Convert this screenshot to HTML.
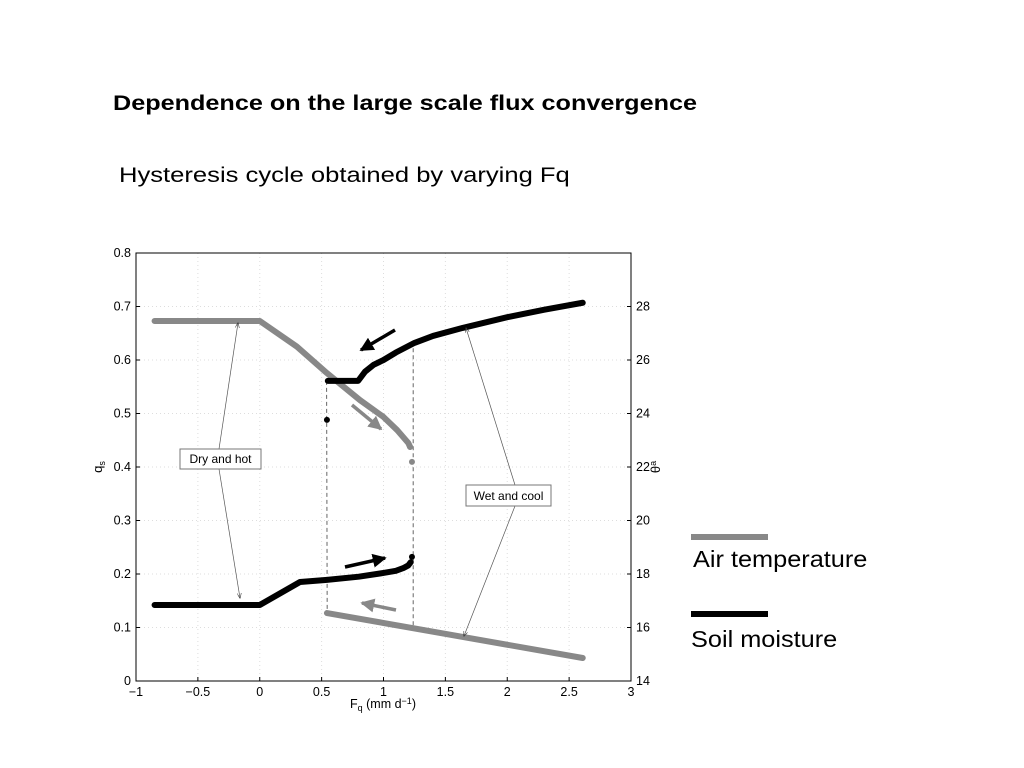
<!DOCTYPE html>
<html><head><meta charset="utf-8"><style>
body{margin:0;background:#fff;width:1024px;height:768px;overflow:hidden;font-family:"Liberation Sans",sans-serif}
.t{position:absolute;color:#000;white-space:nowrap;transform-origin:0 0}
</style></head><body>
<div class="t" style="left:113px;top:92px;font-size:21px;font-weight:bold;transform:scaleX(1.2)">Dependence on the large scale flux convergence</div>
<div class="t" style="left:119px;top:163px;font-size:21.5px;transform:scaleX(1.19)">Hysteresis cycle obtained by varying Fq</div>
<svg id="chart" width="1024" height="768" style="position:absolute;left:0;top:0" font-family="Liberation Sans, sans-serif"></svg>
<div style="position:absolute;left:691px;top:534px;width:77px;height:6px;background:#888"></div>
<div class="t" style="left:693px;top:546px;font-size:23px;transform:scaleX(1.1)">Air temperature</div>
<div style="position:absolute;left:691px;top:611px;width:77px;height:6px;background:#000"></div>
<div class="t" style="left:691px;top:626px;font-size:23px;transform:scaleX(1.1)">Soil moisture</div>
<script>
const xTicks=[-1,-0.5,0,0.5,1,1.5,2,2.5,3];
const xTickLabels=["\u22121","\u22120.5","0","0.5","1","1.5","2","2.5","3"];
const yTicks=[0,0.1,0.2,0.3,0.4,0.5,0.6,0.7,0.8];
const yTickLabels=["0","0.1","0.2","0.3","0.4","0.5","0.6","0.7","0.8"];
const y2Ticks=[14,16,18,20,22,24,26,28];
const soilLowerX=[-0.85,0,0.325,0.543,0.8,1.0,1.1,1.16,1.2,1.22];
const soilLowerQ=[0.142,0.142,0.185,0.189,0.195,0.202,0.206,0.211,0.216,0.222];
const soilUpperX=[0.55,0.795,0.85,0.92,1.0,1.1,1.25,1.4,1.64,2.0,2.3,2.61];
const soilUpperQ=[0.561,0.561,0.578,0.591,0.6,0.614,0.632,0.645,0.66,0.68,0.694,0.707];
const airUpperX=[-0.85,0,0.3,0.543,0.81,1.0,1.11,1.2,1.215];
const airUpperT=[27.46,27.46,26.5,25.51,24.5,23.87,23.38,22.9,22.75];
const airLowerX=[0.543,2.61];
const airLowerT=[16.54,14.86];
const dotsX=[0.543,1.23];const dotsQ=[0.488,0.232];
const airDotsX=[1.215,1.23];const airDotsT=[22.75,22.19];
const X0=136,X1=631,Y0=681,Y1=253;
const sx=v=>X0+(v+1)/4*(X1-X0);
const sy=v=>Y0-v/0.8*(Y0-Y1);
const st=v=>Y0-(v-14)/16*(Y0-Y1);
const svg=document.getElementById('chart');
const NS='http://www.w3.org/2000/svg';
function mk(tag,a,name){const e=document.createElementNS(NS,tag);for(const k in a)e.setAttribute(k,a[k]);


svg.appendChild(e);return e;}
mk('defs',{},'arrow-defs').innerHTML='<marker id="ah" markerWidth="8" markerHeight="6" refX="7" refY="3" orient="auto"><path d="M0,0L8,3L0,6" fill="none" stroke="#333" stroke-width="0.8"/></marker><marker id="bk" markerWidth="4" markerHeight="4" refX="3.5" refY="2" orient="auto" markerUnits="strokeWidth"><path d="M0,0L4,2L0,4Z" fill="#000"/></marker><marker id="gy" markerWidth="4" markerHeight="4" refX="3.5" refY="2" orient="auto" markerUnits="strokeWidth"><path d="M0,0L4,2L0,4Z" fill="#888"/></marker>';
xTicks.forEach((v,i)=>{const x=sx(v);
if(i>0&&i<xTicks.length-1)mk('line',{x1:x,x2:x,y1:Y1,y2:Y0,stroke:'#ddd','stroke-dasharray':'1,3','stroke-width':1},'x-grid');
mk('line',{x1:x,x2:x,y1:Y0,y2:Y0-4,stroke:'#000'},'x-tick');
const t=mk('text',{x:x,y:Y0+15,'font-size':12.5,'text-anchor':'middle'},'x-tick-label');t.textContent=xTickLabels[i];});
yTicks.forEach((v,i)=>{const y=sy(v);
if(i>0&&i<yTicks.length-1)mk('line',{x1:X0,x2:X1,y1:y,y2:y,stroke:'#ddd','stroke-dasharray':'1,3','stroke-width':1},'y-grid');
mk('line',{x1:X0,x2:X0+4,y1:y,y2:y,stroke:'#000'},'y-tick');
const t=mk('text',{x:X0-5,y:y+4,'font-size':12.5,'text-anchor':'end'},'y-tick-label');t.textContent=yTickLabels[i];});
y2Ticks.forEach(v=>{const y=st(v);mk('line',{x1:X1,x2:X1-4,y1:y,y2:y,stroke:'#000'},'y2-tick');
const t=mk('text',{x:X1+5,y:y+4,'font-size':12.5},'y2-tick-label');t.textContent=v;});
mk('rect',{x:X0,y:Y1,width:X1-X0,height:Y0-Y1,fill:'none',stroke:'#000','stroke-width':1},'plot-frame');
let t=mk('text',{x:383,y:708,'font-size':12.5,'text-anchor':'middle'},'x-axis-title');t.innerHTML='F<tspan font-size="9" dy="3">q</tspan><tspan dy="-3"> (mm d</tspan><tspan font-size="9" dy="-4">−1</tspan><tspan dy="4">)</tspan>';
t=mk('text',{x:102,y:467,'font-size':13,'text-anchor':'middle',transform:'rotate(-90 102 467)'},'y-axis-title');t.innerHTML='q<tspan font-size="9" dy="3">s</tspan>';
t=mk('text',{x:660,y:467,'font-size':13,'text-anchor':'middle',transform:'rotate(-90 660 467)'},'y2-axis-title');t.innerHTML='θ<tspan font-size="9" dy="-4">a</tspan>';
mk('line',{x1:sx(0.54),x2:sx(0.545),y1:sy(0.561),y2:st(16.54),stroke:'#666','stroke-dasharray':'4,3'},'dashed-jump-left');
mk('line',{x1:sx(1.24),x2:sx(1.24),y1:sy(0.635),y2:st(15.9),stroke:'#666','stroke-dasharray':'4,3'},'dashed-jump-right');
const pts=(xs,ys,f)=>xs.map((v,i)=>sx(v)+','+f(ys[i])).join(' ');
mk('polyline',{points:pts(airUpperX,airUpperT,st),fill:'none',stroke:'#888','stroke-width':6,'stroke-linejoin':'round','stroke-linecap':'round'},'air-temp-upper');
mk('polyline',{points:pts(airLowerX,airLowerT,st),fill:'none',stroke:'#888','stroke-width':6,'stroke-linecap':'round'},'air-temp-lower');
mk('polyline',{points:pts(soilLowerX,soilLowerQ,sy),fill:'none',stroke:'#000','stroke-width':6,'stroke-linejoin':'round','stroke-linecap':'round'},'soil-moisture-lower');
mk('polyline',{points:pts(soilUpperX,soilUpperQ,sy),fill:'none',stroke:'#000','stroke-width':6,'stroke-linejoin':'round','stroke-linecap':'round'},'soil-moisture-upper');
dotsX.forEach((v,i)=>mk('circle',{cx:sx(v),cy:sy(dotsQ[i]),r:3,fill:'#000'},'soil-point'));
airDotsX.forEach((v,i)=>mk('circle',{cx:sx(v),cy:st(airDotsT[i]),r:3,fill:'#888'},'air-point'));
mk('line',{x1:395,y1:330,x2:361,y2:350,stroke:'#000','stroke-width':3.5,'marker-end':'url(#bk)'},'arrow-soil-down');
mk('line',{x1:352,y1:405,x2:381,y2:429,stroke:'#888','stroke-width':3.5,'marker-end':'url(#gy)'},'arrow-air-down');
mk('line',{x1:345,y1:567,x2:385,y2:558,stroke:'#000','stroke-width':3.5,'marker-end':'url(#bk)'},'arrow-soil-up');
mk('line',{x1:396,y1:610,x2:362,y2:603,stroke:'#888','stroke-width':3.5,'marker-end':'url(#gy)'},'arrow-air-up');
mk('line',{x1:219,y1:449,x2:238,y2:323,stroke:'#555','stroke-width':0.7,'marker-end':'url(#ah)'},'dry-arrow-top');
mk('line',{x1:219,y1:469,x2:240,y2:598,stroke:'#555','stroke-width':0.7,'marker-end':'url(#ah)'},'dry-arrow-bottom');
mk('line',{x1:515,y1:485,x2:466,y2:328,stroke:'#555','stroke-width':0.7,'marker-end':'url(#ah)'},'wet-arrow-top');
mk('line',{x1:515,y1:506,x2:464,y2:636,stroke:'#555','stroke-width':0.7,'marker-end':'url(#ah)'},'wet-arrow-bottom');
mk('rect',{x:180,y:449,width:81,height:20,fill:'#fff',stroke:'#777'},'dry-label-box');
t=mk('text',{x:220.5,y:463,'font-size':12,'text-anchor':'middle'},'dry-label');t.textContent='Dry and hot';
mk('rect',{x:466,y:485,width:85,height:21,fill:'#fff',stroke:'#777'},'wet-label-box');
t=mk('text',{x:508.5,y:500,'font-size':12,'text-anchor':'middle'},'wet-label');t.textContent='Wet and cool';
</script>
</body></html>
